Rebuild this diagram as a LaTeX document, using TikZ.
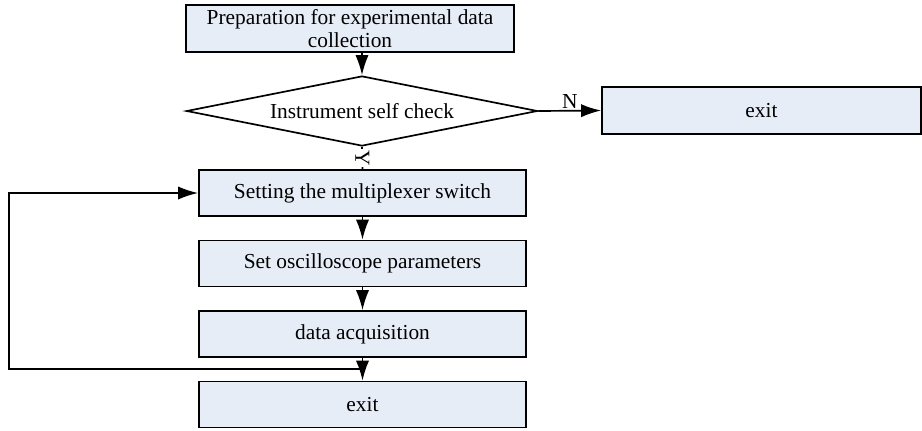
\documentclass[tikz,border=0pt]{standalone}
\usepackage{fontspec}
\setmainfont{Liberation Serif}
\usetikzlibrary{arrows.meta,positioning,shapes}

\definecolor{boxfill}{RGB}{231,237,247}

\begin{document}
\begin{tikzpicture}[x=0.025cm, y=-0.025cm, thick]

   \tikzstyle{proc}=[rectangle, draw, line width=1.2pt, fill=boxfill, text=black, minimum width=8.175cm, minimum height=1.15cm, inner sep=2pt, align=center, font=\fontsize{15.2}{16.5}\selectfont]
   \tikzstyle{check}=[diamond, draw, line width=1.2pt, fill=white, shape aspect=5, minimum width=8.775cm, minimum height=1.75cm, inner sep=0pt, font=\fontsize{15.2}{16.5}\selectfont]
   \tikzstyle{flow}=[line width=1.2pt, -{Latex[length=0.5cm,width=0.33cm]}]
   \tikzstyle{lbl}=[font=\fontsize{15.2}{16.5}\selectfont, inner sep=1pt]

   \useasboundingbox (0,0) rectangle (922,430);

   \node[proc, minimum width=8.2cm, minimum height=1.175cm] (prep) at (350,28.5) {Preparation for experimental data\\collection};
   \node[check] (chk) at (362,111) {Instrument self check};
   \node[proc, minimum width=7.975cm, minimum height=1.175cm] (quit) at (761.5,110.5) {exit};

   \node[proc] (mux)  at (362.5,193)   {Setting the multiplexer switch};
   \node[proc] (osc)  at (362.5,263.5) {Set oscilloscope parameters};
   \node[proc] (acq)  at (362.5,334)   {data acquisition};
   \node[proc] (stop) at (362.5,404.5) {exit};

   % main flow
   \draw[flow] (prep.south -| chk.north) -- (chk.north);
   \draw[flow] (chk.east) -- node[lbl, above] {N} (quit.west);
   \draw[line width=1.2pt] (chk.south) -- node[lbl, fill=white, rotate=-90] {Y} (mux.north);
   \draw[flow] (mux) -- (osc);
   \draw[flow] (osc) -- (acq);
   \draw[flow] (acq) -- (stop);

   % loop back to the switch
   \coordinate (join) at (362.5,369);
   \coordinate (back) at (9,369);
   \draw[flow] (join) -- (back) |- (mux.west);

\end{tikzpicture}
\end{document}
